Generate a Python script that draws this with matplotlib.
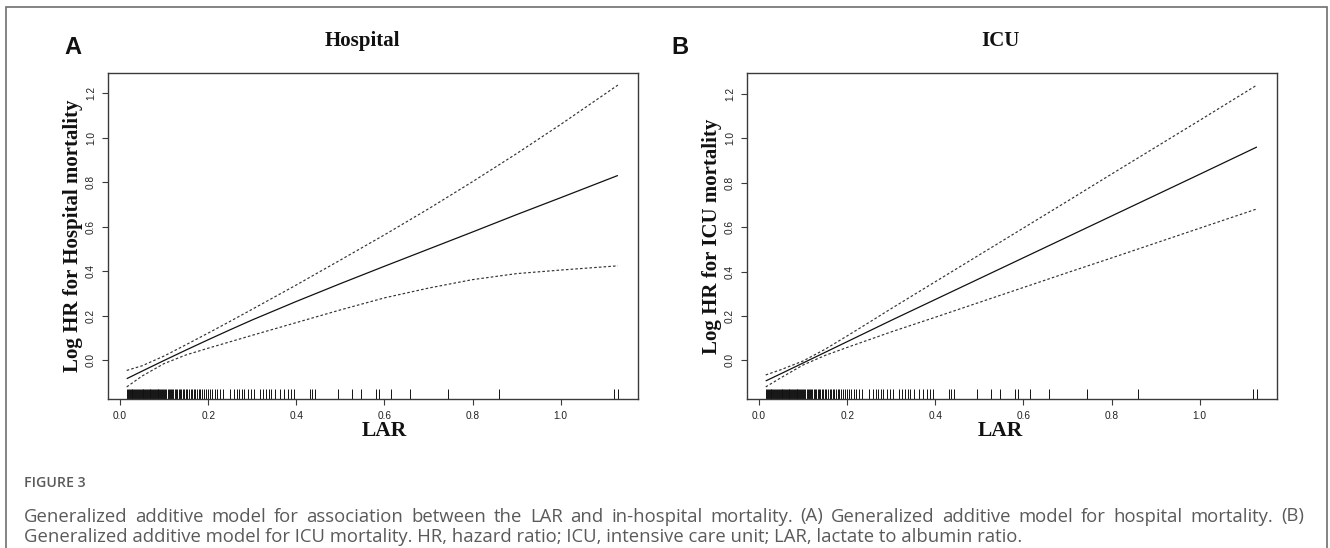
import matplotlib
matplotlib.use("Agg")
import matplotlib.pyplot as plt
from matplotlib.patches import Rectangle

W, H = 1330, 548
fig = plt.figure(figsize=(13.3, 5.48), dpi=100)

def fx(px):
    return px / W

def fy(py):
    return 1 - py / H

# ---------------- data ----------------
lar_grid = [0.015, 0.05, 0.10, 0.15, 0.20, 0.25, 0.30, 0.40, 0.50, 0.60,
            0.70, 0.80, 0.90, 1.00, 1.13]

hosp_fit = [-0.082, -0.048, 0.000, 0.047, 0.093, 0.138, 0.182, 0.265, 0.345,
            0.423, 0.500, 0.577, 0.655, 0.731, 0.831]
hosp_upper = [-0.045, -0.024, 0.020, 0.071, 0.123, 0.176, 0.230, 0.339, 0.451,
              0.564, 0.681, 0.803, 0.929, 1.060, 1.237]
hosp_lower = [-0.119, -0.070, -0.014, 0.025, 0.055, 0.084, 0.113, 0.170, 0.227,
              0.281, 0.325, 0.363, 0.390, 0.406, 0.425]

icu_fit = [-0.093, -0.060, -0.012, 0.036, 0.084, 0.132, 0.180, 0.274, 0.368,
           0.462, 0.556, 0.650, 0.744, 0.838, 0.961]
icu_upper = [-0.066, -0.042, -0.003, 0.050, 0.110, 0.171, 0.233, 0.354, 0.475,
             0.596, 0.717, 0.839, 0.960, 1.081, 1.240]
icu_lower = [-0.120, -0.078, -0.021, 0.022, 0.058, 0.093, 0.128, 0.194, 0.261,
             0.328, 0.395, 0.461, 0.528, 0.595, 0.682]

rug_lar = [0.016, 0.018, 0.020, 0.022, 0.024, 0.026, 0.028, 0.030, 0.032, 0.034,
           0.036, 0.038, 0.040, 0.042, 0.045, 0.047, 0.049, 0.051, 0.053, 0.055,
           0.057, 0.059, 0.061, 0.063, 0.065, 0.067, 0.069, 0.071, 0.073, 0.075,
           0.077, 0.079, 0.081, 0.083, 0.085, 0.087, 0.089, 0.091, 0.093, 0.095,
           0.097, 0.099,
           0.102, 0.105, 0.108, 0.110, 0.113, 0.116, 0.118, 0.121, 0.124, 0.127,
           0.130, 0.133, 0.136, 0.139, 0.142, 0.146, 0.149, 0.152, 0.156, 0.160,
           0.163, 0.167, 0.171, 0.175, 0.178, 0.182, 0.186, 0.190, 0.194, 0.199,
           0.204, 0.209, 0.215, 0.221, 0.227, 0.233,
           0.249, 0.259, 0.265, 0.270, 0.276, 0.282, 0.290, 0.297, 0.305, 0.318,
           0.325, 0.331, 0.337, 0.343, 0.352, 0.362, 0.373, 0.380, 0.387, 0.394,
           0.430, 0.436, 0.442, 0.495, 0.527, 0.546, 0.581, 0.587, 0.616, 0.657,
           0.744, 0.860, 1.120, 1.131]

x_ticks = [0.0, 0.2, 0.4, 0.6, 0.8, 1.0]
y_ticks = [0.0, 0.2, 0.4, 0.6, 0.8, 1.0, 1.2]
x_tick_labels = ["0.0", "0.2", "0.4", "0.6", "0.8", "1.0"]
y_tick_labels = ["0.0", "0.2", "0.4", "0.6", "0.8", "1.0", "1.2"]

panels = [
    dict(letter="A", title="Hospital", ylabel="Log HR for Hospital mortality",
         fit=hosp_fit, upper=hosp_upper, lower=hosp_lower),
    dict(letter="B", title="ICU", ylabel="Log HR for ICU mortality",
         fit=icu_fit, upper=icu_upper, lower=icu_lower),
]

# ---------------- layout (pixels) ----------------
ax_left_px = [107.5, 746.5]
ax_right_px = [638.0, 1277.0]
ax_top_px, ax_bot_px = 73.0, 399.0
letter_pos = [(73, 48), (680, 48)]
title_pos = [(362, 41), (1000, 41)]
xlabel_pos = [(384, 431), (1000, 431)]

serif = ["Liberation Serif", "DejaVu Serif"]
sans = ["Liberation Sans", "DejaVu Sans"]
frame_col = "#3a3a3a"

for i, p in enumerate(panels):
    l, r = ax_left_px[i], ax_right_px[i]
    ax = fig.add_axes([fx(l), fy(ax_bot_px), (r - l) / W, (ax_bot_px - ax_top_px) / H])
    ax.plot(lar_grid, p["fit"], color="#111111", lw=0.9, solid_capstyle="butt")
    ax.plot(lar_grid, p["upper"], color="#333333", lw=0.85, ls=(0, (2.2, 1.8)))
    ax.plot(lar_grid, p["lower"], color="#333333", lw=0.85, ls=(0, (2.2, 1.8)))

    # R-style 4% range extension
    xr = max(rug_lar) - min(rug_lar)
    ax.set_xlim(min(rug_lar) - 0.04 * xr, max(rug_lar) + 0.04 * xr)
    lo, hi = min(p["lower"]), max(p["upper"])
    yr = hi - lo
    ax.set_ylim(lo - 0.04 * yr, hi + 0.04 * yr)

    # rug
    ax.vlines(rug_lar, 0, 0.03, transform=ax.get_xaxis_transform(),
              color="#111111", lw=0.7)

    ax.set_xticks(x_ticks)
    ax.set_xticklabels(x_tick_labels, fontfamily=sans, fontsize=7.3, color="#222222")
    ax.set_yticks(y_ticks)
    ax.set_yticklabels(y_tick_labels, fontfamily=sans, fontsize=7.3, color="#222222",
                       rotation=90, va="center")
    ax.tick_params(axis="both", direction="out", length=4.3, width=0.8,
                   color=frame_col, pad=4)
    for s in ax.spines.values():
        s.set_color(frame_col)
        s.set_linewidth(1.0)

    ax.set_ylabel(p["ylabel"], fontfamily=serif, fontweight="bold", fontsize=15,
                  color="#111111")
    ax.yaxis.set_label_coords(-0.047, 0.5)

    fig.text(fx(letter_pos[i][0]), fy(letter_pos[i][1]), p["letter"], fontfamily=sans,
             fontweight="bold", fontsize=17, ha="center", va="center", color="#111111")
    fig.text(fx(title_pos[i][0]), fy(title_pos[i][1]), p["title"], fontfamily=serif,
             fontweight="bold", fontsize=15, ha="center", va="center", color="#111111")
    fig.text(fx(xlabel_pos[i][0]), fy(xlabel_pos[i][1]), "LAR", fontfamily=serif,
             fontweight="bold", fontsize=15.5, ha="center", va="center", color="#111111")

# outer frame
fig.patches.append(Rectangle((fx(6), fy(570)), (1327 - 6) / W, (570 - 7) / H,
                             transform=fig.transFigure, fill=False,
                             edgecolor="#6e6e6e", lw=1.2, clip_on=False))

# ---------------- caption ----------------
cap_font = ["Open Sans", "DejaVu Sans"]
cap_col = "#5a5a5a"
fig.text(fx(24), fy(487), "FIGURE 3", fontfamily=cap_font, fontweight="semibold",
         fontsize=10.2, color=cap_col, va="baseline", ha="left")

line1 = ("Generalized additive model for association between the LAR and in-hospital "
         "mortality. (A) Generalized additive model for hospital mortality. (B)")
line2 = ("Generalized additive model for ICU mortality. HR, hazard ratio; ICU, "
         "intensive care unit; LAR, lactate to albumin ratio.")

renderer = fig.canvas.get_renderer()
cap_x0, cap_x1 = 24.0, 1304.0

# size the caption font so that the start of line 2 spans the measured width
probe = fig.text(0, 0, "Generalized additive model for ICU mortalit",
                 fontfamily=cap_font, fontsize=10)
wp = probe.get_window_extent(renderer).width
probe.remove()
cap_size = 10 * 374.0 / wp

fig.text(fx(cap_x0), fy(541.5), line2, fontfamily=cap_font, fontsize=cap_size,
         color=cap_col, va="baseline", ha="left")

words = line1.split(" ")
objs = [fig.text(0, fy(521.5), w, fontfamily=cap_font, fontsize=cap_size,
                 color=cap_col, va="baseline", ha="left") for w in words]
widths = [o.get_window_extent(renderer).width for o in objs]
gap = (cap_x1 - cap_x0 - sum(widths)) / (len(words) - 1)
x = cap_x0
for o, w in zip(objs, widths):
    o.set_x(fx(x))
    x += w + gap

fig.savefig("out.png", dpi=100)
